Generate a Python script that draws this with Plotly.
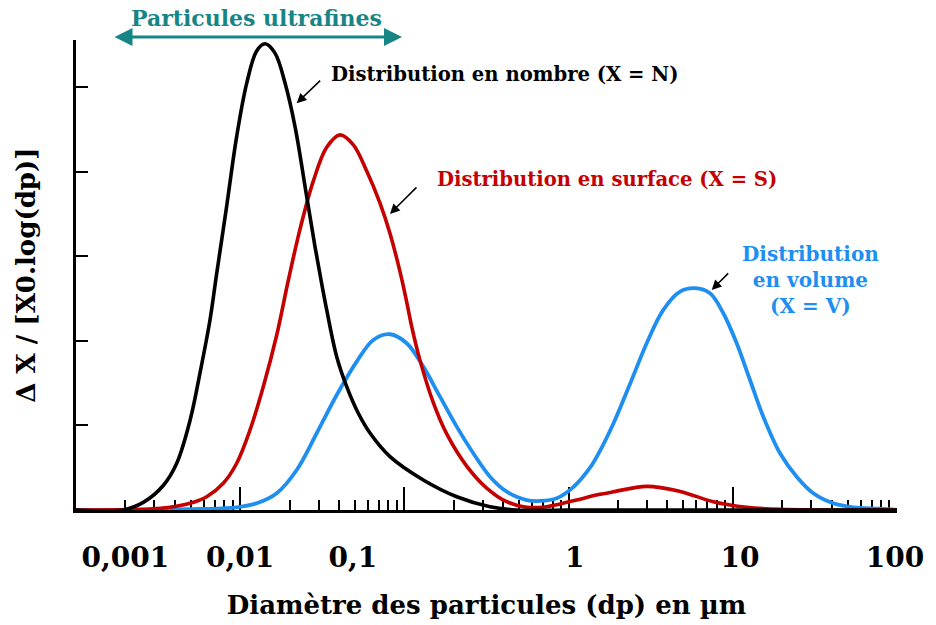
import math
import plotly.graph_objects as go

# ---- data (diameter in µm, relative ΔX/[X0.log(dp)]) ----
n_dp = [0.001, 0.00193, 0.00257, 0.00340, 0.00410, 0.00495, 0.00569, 0.00655, 0.00717,
        0.00828, 0.00952, 0.01096, 0.01260, 0.01416, 0.01629, 0.01875, 0.02157, 0.02541,
        0.02854, 0.03134, 0.03364, 0.03870, 0.04454, 0.05240, 0.06172, 0.08171, 0.1303,
        0.2083, 0.3321, 0.4830, 1.0, 10.0, 100.0]
n_val = [0.0, 0.0, 0.09, 0.29, 0.55, 1.06, 1.62, 2.25, 2.78,
         3.60, 4.42, 5.05, 5.43, 5.515, 5.405, 5.050, 4.536, 3.708,
         3.116, 2.68, 2.367, 1.814, 1.459, 1.144, 0.91, 0.631, 0.355,
         0.157, 0.039, 0.0, 0.0, 0.0, 0.0]

s_dp = [0.001, 0.00282, 0.003737, 0.00495, 0.00625, 0.00789, 0.00952, 0.01148, 0.01382,
        0.01669, 0.01955, 0.02312, 0.02787, 0.03364, 0.04053, 0.04886, 0.05894, 0.07101,
        0.08171, 0.09401, 0.1033, 0.1108, 0.1245, 0.1500, 0.1810, 0.2395, 0.3171,
        0.4198, 0.5556, 0.7356, 1.068, 1.553, 1.872, 2.990, 4.770, 7.608, 12.15,
        19.39, 100.0]
s_val = [0.0, 0.01, 0.032, 0.079, 0.157, 0.316, 0.553, 0.947, 1.459,
         2.07, 2.70, 3.32, 3.89, 4.29, 4.438, 4.320, 4.01, 3.63,
         3.27, 2.82, 2.46, 2.17, 1.77, 1.27, 0.90, 0.52, 0.26,
         0.098, 0.032, 0.039, 0.11, 0.185, 0.215, 0.28, 0.22, 0.098, 0.032,
         0.008, 0.0]

v_dp = [0.001, 0.00569, 0.00952, 0.01260, 0.01669, 0.02208, 0.02923, 0.03870, 0.05123,
        0.06465, 0.08171, 0.1033, 0.1303, 0.1647, 0.2083, 0.2628, 0.3321, 0.4198,
        0.5556, 0.6697, 0.8463, 1.068, 1.350, 1.553, 1.872, 2.365, 2.990, 3.774,
        4.770, 5.886, 7.264, 8.754, 10.56, 12.73, 15.34, 19.39, 24.50, 30.93,
        40.94, 54.19, 78.79, 100.0]
v_val = [0.0, 0.012, 0.032, 0.079, 0.198, 0.473, 0.908, 1.36, 1.755,
         2.012, 2.079, 1.973, 1.696, 1.341, 0.986, 0.671, 0.394, 0.217,
         0.118, 0.107, 0.138, 0.27, 0.50, 0.70, 1.02, 1.49, 1.973, 2.367,
         2.583, 2.624, 2.564, 2.328, 1.973, 1.538, 1.104, 0.671, 0.394, 0.198,
         0.079, 0.032, 0.015, 0.0]

# axis ticks and labels
decade_ticks = [0.001, 0.01, 0.1, 1, 10, 100]
minor_ticks = [m * d for d in [0.001, 0.01, 0.1, 1, 10] for m in range(2, 10)]
label_pos = [0.002, 0.01, 0.0486, 1.09, 11.07, 97.2]
label_text = ["0,001", "0,01", "0,1", "1", "10", "100"]
y_ticks = [1, 2, 3, 4, 5]

FONT = "DejaVu Serif"
BLACK = "#000000"
RED = "#c40000"
BLUE = "#1e8ff0"
TEAL = "#178585"


def lx(v):
    # annotations on a log axis are positioned in log10 units
    return math.log10(v)


fig = go.Figure()
fig.add_trace(go.Scatter(x=v_dp, y=v_val, mode="lines",
                         line=dict(color=BLUE, width=3.8, shape="spline", smoothing=1.0),
                         cliponaxis=False, showlegend=False, hoverinfo="skip"))
fig.add_trace(go.Scatter(x=s_dp, y=s_val, mode="lines",
                         line=dict(color=RED, width=3.6, shape="spline", smoothing=1.0),
                         cliponaxis=False, showlegend=False, hoverinfo="skip"))
fig.add_trace(go.Scatter(x=n_dp, y=n_val, mode="lines",
                         line=dict(color=BLACK, width=3.6, shape="spline", smoothing=1.0),
                         cliponaxis=False, showlegend=False, hoverinfo="skip"))

fig.update_layout(
    width=936, height=625,
    margin=dict(l=76, r=39, t=40, b=115),
    paper_bgcolor="white", plot_bgcolor="white",
    font=dict(family=FONT, color="black"),
    xaxis=dict(
        type="log", range=[-3, 2], showgrid=False, zeroline=False,
        showline=True, linecolor="black", linewidth=3, layer="below traces",
        tickmode="array", tickvals=decade_ticks, showticklabels=False,
        ticks="inside", ticklen=23, tickwidth=2, tickcolor="black",
        minor=dict(tickmode="array", tickvals=minor_ticks, ticks="inside", ticklen=10,
                   tickwidth=1.6, tickcolor="black", showgrid=False),
        title=dict(text="Diamètre des particules (dp) en µm", standoff=84,
                   font=dict(family=FONT, size=26, weight="bold", color="black")),
    ),
    xaxis2=dict(
        type="log", range=[-3, 2], overlaying="x", anchor="y", side="bottom",
        showgrid=False, zeroline=False, showline=False, ticks="",
        tickmode="array", tickvals=label_pos, ticktext=label_text,
        ticklabelstandoff=28,
        tickfont=dict(family=FONT, size=28, weight="bold", color="black"),
    ),
    yaxis=dict(
        range=[0, 5.56], showgrid=False, zeroline=False,
        showline=True, linecolor="black", linewidth=3, layer="below traces",
        tickmode="array", tickvals=y_ticks, showticklabels=False,
        ticks="inside", ticklen=12, tickwidth=2, tickcolor="black",
        title=dict(text="Δ X / [X0.log(dp)]", standoff=30,
                   font=dict(family=FONT, size=26, weight="bold", color="black")),
    ),
)

# invisible trace so the label axis is drawn
fig.add_trace(go.Scatter(x=[0.001, 100], y=[None, None], xaxis="x2", mode="lines",
                         showlegend=False, hoverinfo="skip"))

ann_font = dict(family=FONT, size=19.6, weight="bold")
annotations = [
    dict(x=lx(0.4043), y=5.148, xref="x", yref="y", text="Distribution en nombre (X = N)",
         showarrow=False, font=dict(ann_font, color=BLACK)),
    dict(x=lx(1.713), y=3.905, xref="x", yref="y", text="Distribution en surface (X = S)",
         showarrow=False, font=dict(ann_font, color=RED)),
    dict(x=lx(29.53), y=2.722, xref="x", yref="y", text="Distribution<br>en volume<br>(X = V)",
         showarrow=False, font=dict(family=FONT, size=20, weight="bold", color=BLUE)),
    dict(x=lx(0.01248), y=1.0468, xref="x", yref="paper", yanchor="middle", xanchor="center",
         text="Particules ultrafines",
         showarrow=False, font=dict(family=FONT, size=22, weight="bold", color=TEAL)),
    # double arrow for ultrafine range
    dict(x=lx(0.0967), y=1.0064, xref="x", yref="paper", text="", showarrow=True,
         ax=-289, ay=0, axref="pixel", ayref="pixel", arrowside="end+start",
         arrowhead=2, arrowsize=1.2, arrowwidth=3, arrowcolor=TEAL),
    # pointer arrows
    dict(x=lx(0.02208), y=4.813, xref="x", yref="y", text="", showarrow=True,
         ax=25, ay=-24, arrowhead=2, arrowsize=1.3, arrowwidth=1.5, arrowcolor="black"),
    dict(x=lx(0.08171), y=3.503, xref="x", yref="y", text="", showarrow=True,
         ax=28, ay=-28, arrowhead=2, arrowsize=1.3, arrowwidth=1.5, arrowcolor="black"),
    dict(x=lx(7.44), y=2.604, xref="x", yref="y", text="", showarrow=True,
         ax=18, ay=-18, arrowhead=2, arrowsize=1.3, arrowwidth=1.5, arrowcolor="black"),
]
fig.update_layout(annotations=annotations)

fig.write_html("out.html", config={"displayModeBar": False},
               post_script="document.body.style.margin='0px';")
